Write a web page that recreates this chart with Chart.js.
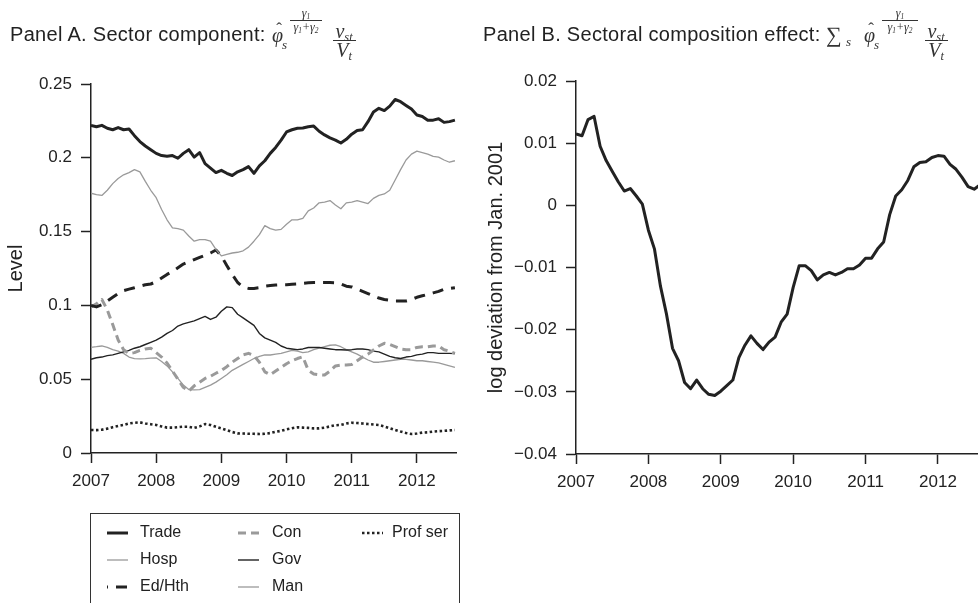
<!DOCTYPE html>
<html>
<head>
<meta charset="utf-8">
<script src="https://cdn.jsdelivr.net/npm/chart.js@4.4.1/dist/chart.umd.min.js"></script>
<style>
  html, body { margin: 0; padding: 0; background: #fff; }
  body { width: 978px; height: 603px; overflow: hidden; position: relative;
         font-family: "Liberation Sans", Arial, sans-serif; color: #222; }
  canvas { position: absolute; top: 0; }
  #chartA { left: 0; }
  #chartB { left: 480px; }
  .ptitle { position: absolute; top: 24px; font-size: 20px; line-height: 1; letter-spacing: 0.3px; white-space: nowrap; }
  .m { position: absolute; font-family: "Liberation Serif", "DejaVu Serif", serif; font-style: italic;
       line-height: 1; white-space: nowrap; color: #333; text-align: center; }
  .m sub { font-size: 62%; vertical-align: -0.25em; line-height: 0; }
  .hat { font-style: normal; }
  .bar { position: absolute; height: 0; border-top: 1px solid #333; }
  #legend { position: absolute; left: 90px; top: 513px; width: 368px; height: 120px; border: 1px solid #333; }
  .ltext { position: absolute; font-size: 16px; line-height: 18px; white-space: nowrap; }
  #legend svg { position: absolute; }
</style>
</head>
<body>
<canvas id="chartA" width="480" height="603"></canvas>
<canvas id="chartB" width="510" height="603"></canvas>

<!-- Panel titles -->
<div class="ptitle" style="left:10px">Panel A. Sector component:</div>
<div class="m" style="left:272px; top:25px; font-size:20px;">φ</div>
<div class="m hat" style="left:273px; top:20px; width:12px; font-size:17px;">ˆ</div>
<div class="m" style="left:282px; top:38px; font-size:13px;">s</div>
<div class="m" style="left:289px; top:7px; width:34px; font-size:12px;">γ<sub>1</sub></div>
<div class="bar" style="left:290px; top:20px; width:32px;"></div>
<div class="m" style="left:289px; top:21px; width:34px; font-size:12px;">γ<sub>1</sub>+γ<sub>2</sub></div>
<div class="m" style="left:331px; top:21px; width:26px; font-size:20px;">v<sub>st</sub></div>
<div class="bar" style="left:333px; top:40px; width:23px;"></div>
<div class="m" style="left:331px; top:40px; width:26px; font-size:20px;">V<sub>t</sub></div>

<div class="ptitle" style="left:483px">Panel B. Sectoral composition effect:</div>
<div class="m" style="left:826px; top:24px; font-size:22px; font-style:normal;">∑</div>
<div class="m" style="left:846px; top:35px; font-size:13px;">s</div>
<div class="m" style="left:864px; top:25px; font-size:20px;">φ</div>
<div class="m hat" style="left:865px; top:20px; width:12px; font-size:17px;">ˆ</div>
<div class="m" style="left:874px; top:38px; font-size:13px;">s</div>
<div class="m" style="left:881px; top:7px; width:38px; font-size:12px;">γ<sub>1</sub></div>
<div class="bar" style="left:882px; top:20px; width:36px;"></div>
<div class="m" style="left:881px; top:21px; width:38px; font-size:12px;">γ<sub>1</sub>+γ<sub>2</sub></div>
<div class="m" style="left:923px; top:21px; width:26px; font-size:20px;">v<sub>st</sub></div>
<div class="bar" style="left:925px; top:40px; width:23px;"></div>
<div class="m" style="left:923px; top:40px; width:26px; font-size:20px;">V<sub>t</sub></div>

<div id="legend"></div>

<script>
// Monthly series, Jan 2007 .. Aug 2012
const startYear = 2007;
const sectorNames = ['Trade', 'Hosp', 'Ed/Hth', 'Con', 'Gov', 'Man', 'Prof ser'];

const trade = [0.222,0.221,0.222,0.220,0.219,0.2205,0.219,0.2195,0.215,0.211,
  0.208,0.2055,0.203,0.2015,0.201,0.2015,0.1997,0.203,0.2055,0.2005,
  0.2035,0.196,0.193,0.190,0.1915,0.1895,0.188,0.1905,0.192,0.194,
  0.1895,0.1945,0.198,0.203,0.207,0.212,0.2175,0.219,0.220,0.2202,
  0.221,0.2215,0.218,0.2155,0.2135,0.212,0.210,0.2125,0.216,0.2185,
  0.219,0.2245,0.231,0.2335,0.232,0.235,0.2395,0.238,0.2355,0.233,
  0.229,0.228,0.2255,0.2255,0.2265,0.224,0.2245,0.2255];
const hosp = [0.176,0.175,0.1745,0.178,0.1825,0.186,0.1885,0.190,0.192,0.1905,
  0.184,0.178,0.173,0.165,0.158,0.1525,0.152,0.151,0.147,0.1435,
  0.1445,0.1445,0.1435,0.138,0.1335,0.1345,0.1355,0.136,0.137,0.1395,
  0.1435,0.148,0.154,0.152,0.151,0.1515,0.155,0.158,0.158,0.159,
  0.164,0.166,0.1695,0.170,0.171,0.168,0.1655,0.1695,0.170,0.171,
  0.170,0.169,0.1725,0.1745,0.1755,0.178,0.185,0.192,0.1985,0.2025,
  0.2045,0.2035,0.2025,0.201,0.2005,0.1985,0.197,0.198];
const edHth = [0.100,0.099,0.1005,0.103,0.1055,0.108,0.110,0.111,0.112,0.113,
  0.114,0.1145,0.116,0.1185,0.121,0.123,0.1255,0.128,0.1295,0.131,
  0.1325,0.134,0.1355,0.1375,0.1335,0.127,0.121,0.1155,0.1125,0.1115,
  0.1115,0.112,0.113,0.1135,0.1138,0.114,0.114,0.1143,0.1145,0.115,
  0.1153,0.1155,0.1155,0.1155,0.1155,0.1154,0.1145,0.113,0.1125,0.111,
  0.1095,0.108,0.1065,0.105,0.104,0.1035,0.103,0.103,0.103,0.104,
  0.1055,0.1065,0.1075,0.1085,0.1095,0.111,0.1115,0.112];
const con = [0.099,0.101,0.104,0.097,0.087,0.0766,0.070,0.0675,0.068,0.0695,
  0.0705,0.071,0.068,0.065,0.061,0.0555,0.050,0.0445,0.042,0.0455,
  0.048,0.0505,0.052,0.054,0.056,0.0585,0.0615,0.064,0.0665,0.0675,
  0.066,0.0615,0.055,0.053,0.0555,0.058,0.0605,0.0625,0.064,0.0652,
  0.056,0.0535,0.053,0.0528,0.0555,0.059,0.0596,0.0596,0.060,0.0625,
  0.065,0.067,0.0698,0.0725,0.0743,0.0735,0.072,0.0705,0.070,0.070,
  0.0715,0.072,0.072,0.0725,0.0725,0.070,0.069,0.0675];
const gov = [0.0635,0.0645,0.065,0.066,0.0665,0.0675,0.0685,0.0695,0.071,0.072,
  0.0735,0.075,0.0765,0.0785,0.081,0.083,0.086,0.0875,0.0885,0.0895,
  0.091,0.0925,0.0905,0.092,0.096,0.099,0.0985,0.094,0.0915,0.089,
  0.0865,0.081,0.078,0.0765,0.075,0.0725,0.071,0.0705,0.070,0.0705,
  0.0715,0.0715,0.0715,0.071,0.0705,0.070,0.070,0.0698,0.070,0.0705,
  0.0705,0.070,0.069,0.0685,0.067,0.0655,0.0645,0.064,0.065,0.0655,
  0.0665,0.067,0.068,0.068,0.0675,0.0675,0.0675,0.0673];
const man = [0.0716,0.072,0.0725,0.0715,0.070,0.069,0.0675,0.065,0.064,0.0638,
  0.064,0.0643,0.0645,0.062,0.059,0.055,0.0505,0.046,0.043,0.0427,
  0.043,0.0445,0.046,0.048,0.0505,0.053,0.056,0.058,0.060,0.062,
  0.064,0.0655,0.0664,0.0664,0.067,0.0675,0.0685,0.0695,0.069,0.068,
  0.0685,0.070,0.071,0.072,0.073,0.0732,0.072,0.070,0.0685,0.067,
  0.065,0.063,0.0615,0.0615,0.062,0.0625,0.063,0.0635,0.0635,0.063,
  0.0625,0.0625,0.062,0.0615,0.061,0.060,0.059,0.058];
const profSer = [0.0156,0.0155,0.0158,0.0165,0.0175,0.0183,0.019,0.020,0.0205,0.0208,
  0.020,0.0195,0.019,0.018,0.0172,0.0172,0.0175,0.0178,0.0178,0.017,
  0.018,0.0196,0.019,0.0178,0.0167,0.0155,0.0142,0.0133,0.0132,0.013,
  0.013,0.0129,0.013,0.0135,0.0144,0.015,0.016,0.0168,0.0174,0.0172,
  0.017,0.0167,0.0167,0.0172,0.018,0.0188,0.019,0.020,0.0205,0.0203,
  0.020,0.0196,0.0193,0.019,0.018,0.0168,0.0156,0.0145,0.0135,0.0129,
  0.0132,0.0138,0.014,0.0145,0.0148,0.015,0.0153,0.0156];

const compositionEffect = [0.0115,0.0112,0.0138,0.0143,0.0095,0.0072,0.0055,0.0038,0.0023,0.0027,
  0.0015,0.0002,-0.004,-0.007,-0.013,-0.0175,-0.023,-0.025,-0.0285,-0.0295,
  -0.0281,-0.0295,-0.0304,-0.0306,-0.0299,-0.0290,-0.0281,-0.0245,-0.0225,-0.0210,
  -0.0222,-0.0232,-0.0220,-0.0212,-0.0188,-0.0175,-0.0132,-0.0097,-0.0097,-0.0105,
  -0.0120,-0.0112,-0.0108,-0.0112,-0.0108,-0.0102,-0.0102,-0.0096,-0.0085,-0.0085,
  -0.0070,-0.0059,-0.0015,0.0015,0.0025,0.0040,0.0062,0.0069,0.0070,0.0077,
  0.0080,0.0079,0.0066,0.0058,0.0045,0.0030,0.0026,0.0033];

// Axis ticks
const yearTicks = [2007, 2008, 2009, 2010, 2011, 2012];
const levelTicks = [0, 0.05, 0.1, 0.15, 0.2, 0.25];
const levelTickLabels = ['0', '0.05', '0.1', '0.15', '0.2', '0.25'];
const devTicks = [-0.04, -0.03, -0.02, -0.01, 0, 0.01, 0.02];
const devTickLabels = ['\u22120.04', '\u22120.03', '\u22120.02', '\u22120.01', '0', '0.01', '0.02'];

const ink = '#222';
const grey = '#9a9a9a';
const fontFamily = '"Liberation Sans", Arial, sans-serif';

function toPoints(values) {
    return values.map((v, i) => ({ x: startYear + i / 12, y: v }));
}

function lineSet(label, values, color, width, dash) {
    return {
        label: label,
        data: toPoints(values),
        borderColor: color,
        borderWidth: width,
        borderDash: dash,
        borderCapStyle: 'butt',
        borderJoinStyle: 'round',
        pointRadius: 0,
        tension: 0,
        fill: false
    };
}

// Shared axis look: axis line, outward ticks, no grid
function axisStyle(extra) {
    return Object.assign({
        grid: { drawOnChartArea: false, drawTicks: true, tickLength: 10, color: ink, tickWidth: 1.5 },
        border: { display: true, color: ink, width: 1.5 },
    }, extra);
}

function xAxis(max, height) {
    return axisStyle({
        type: 'linear', min: startYear, max: max,
        afterFit: s => { s.height = height; },
        afterBuildTicks: s => { s.ticks = yearTicks.map(v => ({ value: v })); },
        ticks: { autoSkip: false, maxRotation: 0, padding: 8, color: ink,
                 font: { size: 17, family: fontFamily }, callback: v => String(v) }
    });
}

function yAxis(min, max, width, ticks, labels, title) {
    return axisStyle({
        min: min, max: max,
        afterFit: s => { s.width = width; },
        afterBuildTicks: s => { s.ticks = ticks.map(v => ({ value: v })); },
        ticks: { padding: 9, color: ink, font: { size: 17, family: fontFamily },
                 callback: (v, i) => labels[i] },
        title: { display: true, text: title, color: ink, padding: { top: 4, bottom: 0 },
                 font: { size: 20, family: fontFamily } }
    });
}

const baseOptions = {
    responsive: false,
    animation: false,
    devicePixelRatio: 1,
    plugins: { legend: { display: false }, tooltip: { enabled: false } },
    elements: { point: { radius: 0 } }
};

// Panel A
const sectorChart = new Chart(document.getElementById('chartA').getContext('2d'), {
    type: 'line',
    data: {
        datasets: [
            lineSet(sectorNames[0], trade, ink, 3, []),
            lineSet(sectorNames[1], hosp, grey, 1.3, []),
            lineSet(sectorNames[2], edHth, ink, 3, [11, 8]),
            lineSet(sectorNames[3], con, grey, 3, [8, 5]),
            lineSet(sectorNames[4], gov, ink, 1.4, []),
            lineSet(sectorNames[5], man, grey, 1.3, []),
            lineSet(sectorNames[6], profSer, ink, 2.6, [2.5, 2.5])
        ]
    },
    options: Object.assign({}, baseOptions, {
        layout: { padding: { top: 84, right: 24, left: 0, bottom: 0 } },
        scales: {
            x: xAxis(2012.6, 150),
            y: yAxis(0, 0.25, 91, levelTicks, levelTickLabels, 'Level')
        }
    })
});

// Panel B
new Chart(document.getElementById('chartB').getContext('2d'), {
    type: 'line',
    data: {
        datasets: [lineSet('Composition effect', compositionEffect, ink, 3, [])]
    },
    options: Object.assign({}, baseOptions, {
        layout: { padding: { top: 81, right: 5, left: 0, bottom: 0 } },
        scales: {
            x: xAxis(2012.65, 149),
            y: yAxis(-0.04, 0.02, 96, devTicks, devTickLabels, 'log deviation from Jan. 2001')
        }
    })
});

// Legend in three columns, filled top to bottom
function buildLegend(chart) {
    const box = document.getElementById('legend');
    const sampleX = [16, 147, 271];
    const textX = [49, 181, 301];
    const rowY = [19, 46, 73];
    const ns = 'http://www.w3.org/2000/svg';
    chart.data.datasets.forEach((ds, i) => {
        const col = Math.floor(i / 3), row = i % 3;
        const svg = document.createElementNS(ns, 'svg');
        svg.setAttribute('width', 22);
        svg.setAttribute('height', 10);
        svg.style.left = sampleX[col] + 'px';
        svg.style.top = (rowY[row] - 5) + 'px';
        const line = document.createElementNS(ns, 'line');
        line.setAttribute('x1', 0); line.setAttribute('x2', 21);
        line.setAttribute('y1', 5); line.setAttribute('y2', 5);
        line.setAttribute('stroke', ds.borderColor);
        line.setAttribute('stroke-width', ds.borderWidth);
        if (ds.borderDash.length) {
            line.setAttribute('stroke-dasharray', ds.borderDash.join(' '));
            if (ds.borderDash[0] > 10) line.setAttribute('stroke-dashoffset', ds.borderDash[0] - 1);
        }
        svg.appendChild(line);
        box.appendChild(svg);

        const t = document.createElement('div');
        t.className = 'ltext';
        t.textContent = ds.label;
        t.style.left = textX[col] + 'px';
        t.style.top = (rowY[row] - 10) + 'px';
        box.appendChild(t);
    });
}
buildLegend(sectorChart);
</script>
</body>
</html>
